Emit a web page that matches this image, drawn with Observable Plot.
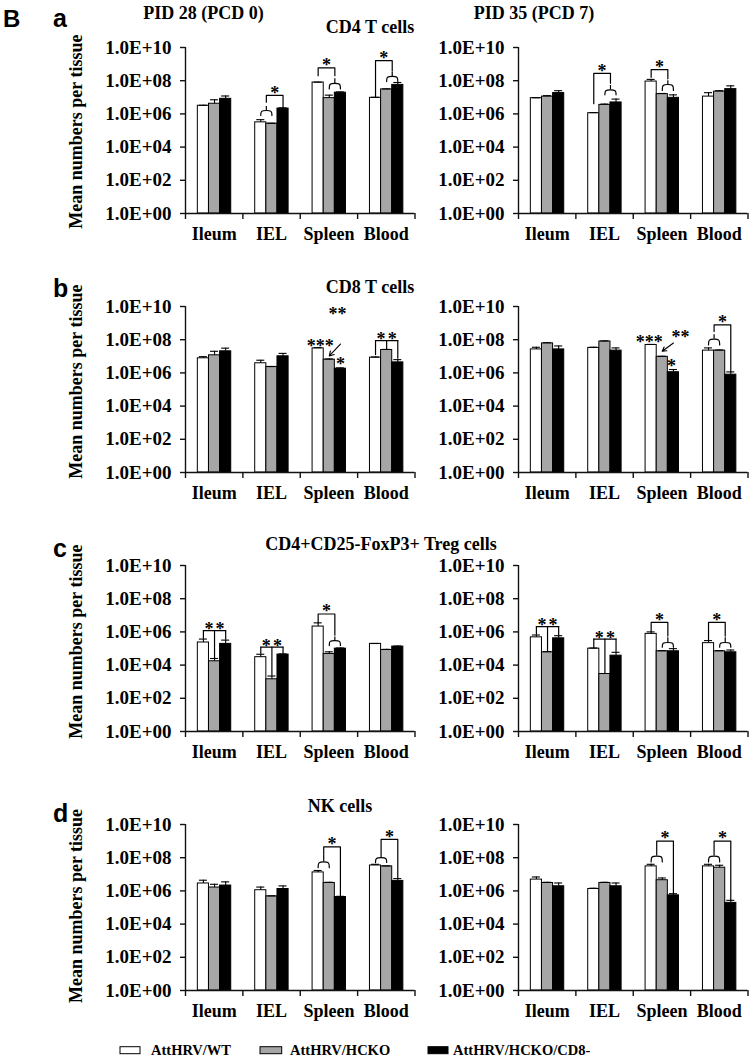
<!DOCTYPE html>
<html><head><meta charset="utf-8">
<script src="https://cdn.jsdelivr.net/npm/d3@7"></script>
<script src="https://cdn.jsdelivr.net/npm/@observablehq/plot@0.6"></script>
<style>
html,body{margin:0;padding:0;background:#fff;}
#fig{position:relative;width:750px;height:1061px;overflow:hidden;background:#fff;}
.panel{position:absolute;width:330px;height:260px;}
.panel svg{overflow:visible;}
</style></head><body><div id="fig"></div>
<script>
// ---------- categories & labels ----------
const tissues = ["Ileum", "IEL", "Spleen", "Blood"];
const groups = ["AttHRV/WT", "AttHRV/HCKO", "AttHRV/HCKO/CD8-"];
const groupColors = ["#ffffff", "#a6a6a6", "#000000"];
const yTickValues = [1e0, 1e2, 1e4, 1e6, 1e8, 1e10];
const yTickLabels = ["1.0E+00", "1.0E+02", "1.0E+04", "1.0E+06", "1.0E+08", "1.0E+10"];
const cellTypes = ["CD4 T cells", "CD8 T cells", "CD4+CD25-FoxP3+ Treg cells", "NK cells"];
const timepoints = ["PID 28 (PCD 0)", "PID 35 (PCD 7)"];
const panelLetters = ["a", "b", "c", "d"];
const yLabel = "Mean numbers per tissue";

// ---------- values: rows = groups (WT, HCKO, HCKO/CD8-), cols = tissues ----------
const cd4_d0_mean  = [[3.1e6, 3.1e5, 7.8e7, 9.3e6], [4.1e6, 2.6e5, 8.9e6, 3.0e7], [8.1e6, 2.1e6, 1.9e7, 5.6e7]];
const cd4_d0_upper = [[3.3e6, 4.5e5, 8.1e7, 1.0e7], [7.1e6, 2.7e5, 1.35e7, 3.2e7], [1.2e7, 2.3e6, 2.1e7, 7.8e7]];
const cd4_d7_mean  = [[8.9e6, 1.1e6, 8.9e7, 1.1e7], [1.1e7, 3.5e6, 1.55e7, 2.2e7], [1.8e7, 4.9e6, 9.3e6, 3.1e7]];
const cd4_d7_upper = [[9.3e6, 1.2e6, 1.2e8, 1.9e7], [1.26e7, 3.9e6, 1.7e7, 2.5e7], [2.5e7, 7.8e6, 1.4e7, 4.9e7]];
const cd8_d0_mean  = [[7.6e6, 3.8e6, 3.0e7, 8.3e6], [1.15e7, 2.3e6, 6.3e6, 2.4e7], [2.0e7, 1.0e7, 1.8e6, 4.3e6]];
const cd8_d0_upper = [[9.5e6, 5.8e6, 3.3e7, 9.1e6], [2.0e7, 2.4e6, 6.9e6, 2.6e7], [3.1e7, 1.5e7, 2.0e6, 6.3e6]];
const cd8_d7_mean  = [[2.6e7, 3.2e7, 4.8e7, 2.2e7], [6.0e7, 7.8e7, 9.3e6, 2.2e7], [2.6e7, 2.2e7, 1.1e6, 7.8e5]];
const cd8_d7_upper = [[3.5e7, 3.5e7, 5.2e7, 3.2e7], [6.6e7, 8.5e7, 1.0e7, 2.4e7], [4.2e7, 3.2e7, 1.6e6, 1.15e6]];
const treg_d0_mean  = [[2.3e5, 3.0e4, 2.1e6, 1.9e5], [1.7e4, 1.4e3, 4.7e4, 8.1e4], [1.9e5, 4.3e4, 9.8e4, 1.3e5]];
const treg_d0_upper = [[3.7e5, 4.5e4, 3.5e6, 2.0e5], [2.5e4, 2.2e3, 6.3e4, 8.9e4], [3.2e5, 4.7e4, 1.07e5, 1.4e5]];
const treg_d7_mean  = [[4.7e5, 9.8e4, 7.6e5, 2.1e5], [5.9e4, 2.9e3, 6.8e4, 6.8e4], [4.1e5, 3.7e4, 6.8e4, 5.9e4]];
const treg_d7_upper = [[6.5e5, 1.07e5, 1.0e6, 3.0e5], [6.5e4, 2.9e3, 7.4e4, 7.4e4], [5.9e5, 5.9e4, 9.8e4, 8.1e4]];
const nk_d0_mean  = [[2.8e6, 1.1e6, 1.3e7, 3.4e7], [1.6e6, 4.7e5, 3.0e6, 3.0e7], [2.1e6, 1.3e6, 4.3e5, 4.0e6]];
const nk_d0_upper = [[4.4e6, 1.7e6, 1.7e7, 4.0e7], [2.5e6, 5.0e5, 3.3e6, 3.2e7], [3.5e6, 2.0e6, 4.7e5, 5.5e6]];
const nk_d7_mean  = [[4.8e6, 1.3e6, 3.0e7, 3.0e7], [3.0e6, 3.0e6, 4.4e6, 2.5e7], [1.9e6, 1.9e6, 5.4e5, 1.9e5]];
const nk_d7_upper = [[6.9e6, 1.45e6, 4.0e7, 4.0e7], [3.3e6, 3.3e6, 6.0e6, 3.5e7], [3.0e6, 3.0e6, 6.8e5, 2.7e5]];

// ---------- significance annotations (anchored to tissue / group, y in data units) ----------
const cd4_d0_brackets = [
  {tissue: "IEL", from: "WT|HCKO", fromEnd: 5.1e6, to: "CD8", toEnd: 2.3e6, top: 1.3e7, label: "*"},
  {tissue: "Spleen", from: "WT", fromEnd: 2.0e8, to: "HCKO|CD8", toEnd: 2.0e8, top: 5.9e8, label: "*"},
  {tissue: "Blood", from: "WT", fromEnd: 1.1e7, to: "HCKO|CD8", toEnd: 3.8e8, top: 1.6e9, label: "*"}];
const cd4_d0_braces = [
  {tissue: "IEL", pair: "WT|HCKO", base: 8.1e5, shoulder: 1.6e6, stem: 2.8e6},
  {tissue: "Spleen", pair: "HCKO|CD8", base: 3.2e7, shoulder: 6.9e7, stem: 1.3e8},
  {tissue: "Blood", pair: "HCKO|CD8", base: 8.9e7, shoulder: 1.8e8, stem: 3.2e8}];
const cd4_d7_brackets = [
  {tissue: "IEL", from: "WT", fromEnd: 4.1e6, to: "HCKO|CD8", toEnd: 7.1e7, top: 2.8e8, label: "*"},
  {tissue: "Spleen", from: "WT", fromEnd: 1.6e8, to: "HCKO|CD8", toEnd: 1.3e8, top: 4.6e8, label: "*"}];
const cd4_d7_braces = [
  {tissue: "IEL", pair: "HCKO|CD8", base: 1.4e7, shoulder: 2.8e7, stem: 5.2e7},
  {tissue: "Spleen", pair: "HCKO|CD8", base: 2.6e7, shoulder: 5.9e7, stem: 1.0e8}];
const cd8_d0_prongs = [{tissue: "Blood", top: 8.7e7, ends: [1.1e7, 2.5e7, 6.6e6]}];
const cd8_d0_notes = [
  {tissue: "Spleen", at: "WT", y: 4.1e7, text: "***", dx: 2},
  {tissue: "Spleen", at: "CD8", y: 3.3e9, text: "**", dx: -3},
  {tissue: "Spleen", at: "CD8", y: 3.2e6, text: "*", dx: 0}];
const cd8_d0_arrows = [{tissue: "Spleen", from: "CD8", y1: 5.5e7, to: "HCKO", y2: 1.05e7}];
const cd8_d7_notes = [
  {tissue: "Spleen", at: "WT", y: 6.8e7, text: "***", dx: -2},
  {tissue: "Spleen", at: "CD8", y: 1.35e8, text: "**", dx: 7},
  {tissue: "Spleen", at: "CD8", y: 2.7e6, text: "*", dx: -2}];
const cd8_d7_arrows = [{tissue: "Spleen", from: "CD8", y1: 6.3e7, to: "HCKO", y2: 2.0e7}];
const cd8_d7_brackets = [
  {tissue: "Blood", from: "WT|HCKO", fromEnd: 3.1e8, to: "CD8", toEnd: 1.15e6, top: 7.9e8, label: "*"}];
const cd8_d7_braces = [{tissue: "Blood", pair: "WT|HCKO", base: 4.8e7, shoulder: 1.07e8, stem: 2.0e8}];
const treg_d0_prongs = [
  {tissue: "Ileum", top: 1.2e6, ends: [3.7e5, 2.5e4, 3.2e5]},
  {tissue: "IEL", top: 1.2e5, ends: [4.5e4, 2.2e3, 4.7e4]}];
const treg_d0_brackets = [
  {tissue: "Spleen", from: "WT", fromEnd: 3.5e6, to: "HCKO|CD8", toEnd: 6.3e5, top: 1.2e7, label: "*"}];
const treg_d0_braces = [{tissue: "Spleen", pair: "HCKO|CD8", base: 1.5e5, shoulder: 3.0e5, stem: 5.0e5}];
const treg_d7_prongs = [
  {tissue: "Ileum", top: 2.1e6, ends: [6.5e5, 5.9e4, 5.9e5]},
  {tissue: "IEL", top: 3.7e5, ends: [9.8e4, 2.9e3, 5.9e4]}];
const treg_d7_brackets = [
  {tissue: "Spleen", from: "WT", fromEnd: 1.05e6, to: "HCKO|CD8", toEnd: 5.6e5, top: 3.8e6, label: "*"},
  {tissue: "Blood", from: "WT", fromEnd: 3.0e5, to: "HCKO|CD8", toEnd: 5.6e5, top: 3.8e6, label: "*"}];
const treg_d7_braces = [
  {tissue: "Spleen", pair: "HCKO|CD8", base: 1.2e5, shoulder: 2.3e5, stem: 4.5e5},
  {tissue: "Blood", pair: "HCKO|CD8", base: 1.2e5, shoulder: 2.3e5, stem: 4.5e5}];
const nk_d0_brackets = [
  {tissue: "Spleen", from: "WT|HCKO", fromEnd: 1.6e8, to: "CD8", toEnd: 4.7e5, top: 4.5e8, label: "*"},
  {tissue: "Blood", from: "WT|HCKO", fromEnd: 2.8e8, to: "CD8", toEnd: 5.5e6, top: 1.26e9, label: "*"}];
const nk_d0_braces = [
  {tissue: "Spleen", pair: "WT|HCKO", base: 2.5e7, shoulder: 5.6e7, stem: 1.4e8},
  {tissue: "Blood", pair: "WT|HCKO", base: 5.2e7, shoulder: 1.0e8, stem: 2.5e8}];
const nk_d7_brackets = [
  {tissue: "Spleen", from: "WT|HCKO", fromEnd: 2.8e8, to: "CD8", toEnd: 6.8e5, top: 1.0e9, label: "*"},
  {tissue: "Blood", from: "WT|HCKO", fromEnd: 2.8e8, to: "CD8", toEnd: 2.7e5, top: 1.0e9, label: "*"}];
const nk_d7_braces = [
  {tissue: "Spleen", pair: "WT|HCKO", base: 5.5e7, shoulder: 1.26e8, stem: 2.5e8},
  {tissue: "Blood", pair: "WT|HCKO", base: 5.5e7, shoulder: 1.26e8, stem: 2.5e8}];

// ---------- layout ----------
const SERIF = "'Liberation Serif', 'Times New Roman', serif";
const SANS = "'Liberation Sans', Arial, sans-serif";
const BAR0 = 0.215, BARW = 0.194, CAP = 0.07;
const slot = {"WT": 0, "HCKO": 1, "CD8": 2, "WT|HCKO": 0.5, "HCKO|CD8": 1.5};
const ax = (ti, a) => ti + BAR0 + BARW * (slot[a] + 0.5);
const tIdx = t => tissues.indexOf(t);

function makePanel(mean, upper, ann) {
  const rows = [];
  tissues.forEach((t, ti) => groups.forEach((g, gi) =>
    rows.push({tissue: t, ti, gi, group: g, mean: mean[gi][ti], upper: upper[gi][ti]})));
  const errs = rows.filter(d => d.upper > d.mean * 1.01);
  const cx = d => d.ti + BAR0 + BARW * (d.gi + 0.5);

  const bracketPts = [], labels = [], bracePts = [], stems = [], prongPts = [], legs = [];
  (ann.brackets || []).forEach((b, k) => {
    const ti = tIdx(b.tissue), x1 = ax(ti, b.from), x2 = ax(ti, b.to);
    bracketPts.push({id: k, x: x1, y: b.fromEnd}, {id: k, x: x1, y: b.top},
                    {id: k, x: x2, y: b.top}, {id: k, x: x2, y: b.toEnd});
    labels.push({x: (x1 + x2) / 2, y: b.top, text: b.label, dy: -2.5, dx: 0});
  });
  (ann.braces || []).forEach((b, k) => {
    const ti = tIdx(b.tissue);
    const [a1, a2] = b.pair.split("|");
    const L = ax(ti, a1), R = ax(ti, a2), M = ax(ti, b.pair);
    bracePts.push({id: k, x: L, y: b.base}, {id: k, x: L, y: b.shoulder}, {id: k, x: M, y: b.shoulder},
                  {id: k, x: R, y: b.shoulder}, {id: k, x: R, y: b.base});
    stems.push({x: M, y1: b.shoulder, y2: b.stem});
  });
  (ann.prongs || []).forEach((p, k) => {
    const ti = tIdx(p.tissue);
    prongPts.push({id: k, x: ax(ti, "WT"), y: p.top}, {id: k, x: ax(ti, "CD8"), y: p.top});
    ["WT", "HCKO", "CD8"].forEach((g, gi) => legs.push({x: ax(ti, g), y1: p.ends[gi], y2: p.top}));
    labels.push({x: ax(ti, "WT|HCKO"), y: p.top, text: "*", dy: -1, dx: 0});
    labels.push({x: ax(ti, "HCKO|CD8"), y: p.top, text: "*", dy: -1, dx: 0});
  });
  (ann.notes || []).forEach(n => labels.push({x: ax(tIdx(n.tissue), n.at), y: n.y, text: n.text, dy: 0, dx: n.dx}));
  const arrows = (ann.arrows || []).map(a => ({x1: ax(tIdx(a.tissue), a.from), y1: a.y1, x2: ax(tIdx(a.tissue), a.to), y2: a.y2}));

  return Plot.plot({
    width: 330, height: 260,
    marginLeft: 95, marginRight: 5.5, marginTop: 40, marginBottom: 54,
    style: {fontFamily: SERIF, fontSize: "18px", fontWeight: "bold", color: "#000", background: "transparent", overflow: "visible"},
    x: {type: "linear", domain: [0, 4], axis: null},
    y: {type: "log", domain: [1, 1e10], axis: null},
    color: {type: "ordinal", domain: groups, range: groupColors},
    marks: [
      Plot.rect(rows, {x1: d => d.ti + BAR0 + d.gi * BARW, x2: d => d.ti + BAR0 + (d.gi + 1) * BARW,
        y1: 1, y2: "mean", fill: "group", stroke: "#000", strokeWidth: 1}),
      Plot.ruleX(errs, {x: cx, y1: "mean", y2: "upper", stroke: "#000", strokeWidth: 1.1}),
      Plot.ruleY(errs, {y: "upper", x1: d => cx(d) - CAP, x2: d => cx(d) + CAP, stroke: "#000", strokeWidth: 1.1}),
      Plot.ruleY([1], {x1: 0, x2: 4, stroke: "#111", strokeWidth: 1.4}),
      Plot.ruleX([0], {y1: 1, y2: 1e10, stroke: "#111", strokeWidth: 1.4}),
      Plot.axisY({ticks: yTickValues, tickFormat: d => yTickLabels[yTickValues.indexOf(d)], tickSize: 5, tickPadding: 9, label: null, stroke: "#111", strokeWidth: 1.4, fontSize: 19}),
      Plot.axisX({ticks: [0, 1, 2, 3, 4], tickFormat: () => "", tickSize: 6, label: null, stroke: "#111", strokeWidth: 1.4}),
      Plot.axisX({ticks: [0.5, 1.5, 2.5, 3.5], tickFormat: d => tissues[Math.floor(d)], tickSize: 0, tickPadding: 14, label: null}),
      Plot.line(bracketPts, {x: "x", y: "y", z: "id", stroke: "#000", strokeWidth: 1.2}),
      Plot.line(prongPts, {x: "x", y: "y", z: "id", stroke: "#000", strokeWidth: 1.2}),
      Plot.ruleX(legs, {x: "x", y1: "y1", y2: "y2", stroke: "#000", strokeWidth: 1.2}),
      Plot.line(bracePts, {x: "x", y: "y", z: "id", curve: "basis", stroke: "#000", strokeWidth: 1.2}),
      Plot.ruleX(stems, {x: "x", y1: "y1", y2: "y2", stroke: "#000", strokeWidth: 1.2}),
      Plot.arrow(arrows, {x1: "x1", y1: "y1", x2: "x2", y2: "y2", stroke: "#000", strokeWidth: 1.1, headLength: 7}),
      ...labels.map(l => Plot.text([l], {x: "x", y: "y", text: "text", dy: l.dy, dx: l.dx, fill: "#000", fontSize: 18, fontWeight: "bold"}))
    ]
  });
}

const panels = [
  {row: 0, col: 0, mean: cd4_d0_mean, upper: cd4_d0_upper, ann: {brackets: cd4_d0_brackets, braces: cd4_d0_braces}},
  {row: 0, col: 1, mean: cd4_d7_mean, upper: cd4_d7_upper, ann: {brackets: cd4_d7_brackets, braces: cd4_d7_braces}},
  {row: 1, col: 0, mean: cd8_d0_mean, upper: cd8_d0_upper, ann: {prongs: cd8_d0_prongs, notes: cd8_d0_notes, arrows: cd8_d0_arrows}},
  {row: 1, col: 1, mean: cd8_d7_mean, upper: cd8_d7_upper, ann: {notes: cd8_d7_notes, arrows: cd8_d7_arrows, brackets: cd8_d7_brackets, braces: cd8_d7_braces}},
  {row: 2, col: 0, mean: treg_d0_mean, upper: treg_d0_upper, ann: {prongs: treg_d0_prongs, brackets: treg_d0_brackets, braces: treg_d0_braces}},
  {row: 2, col: 1, mean: treg_d7_mean, upper: treg_d7_upper, ann: {prongs: treg_d7_prongs, brackets: treg_d7_brackets, braces: treg_d7_braces}},
  {row: 3, col: 0, mean: nk_d0_mean, upper: nk_d0_upper, ann: {brackets: nk_d0_brackets, braces: nk_d0_braces}},
  {row: 3, col: 1, mean: nk_d7_mean, upper: nk_d7_upper, ann: {brackets: nk_d7_brackets, braces: nk_d7_braces}}
];
const rowTops = [7, 266, 525, 784];
const colLefts = [90, 422.7];

const fig = document.getElementById("fig");
panels.forEach(p => {
  const div = document.createElement("div");
  div.className = "panel";
  div.style.left = colLefts[p.col] + "px";
  div.style.top = rowTops[p.row] + "px";
  div.appendChild(makePanel(p.mean, p.upper, p.ann));
  fig.appendChild(div);
});

// ---------- titles, letters, axis labels, legend ----------
const ov = d3.select(fig).append("svg")
  .attr("width", 750).attr("height", 1061)
  .style("position", "absolute").style("left", "0px").style("top", "0px").style("overflow", "visible");

ov.append("text").attr("x", 3).attr("y", 27).attr("font-family", SANS).attr("font-weight", "bold").attr("font-size", 24).text("B");
const letterY = [27, 297, 557, 822];
panelLetters.forEach((l, i) => ov.append("text").attr("x", 53).attr("y", letterY[i])
  .attr("font-family", SANS).attr("font-weight", "bold").attr("font-size", 25).text(l));

const tpX = [203.5, 534];
timepoints.forEach((t, i) => ov.append("text").attr("x", tpX[i]).attr("y", 19).attr("text-anchor", "middle")
  .attr("font-family", SERIF).attr("font-weight", "bold").attr("font-size", 18).text(t));

const ctX = [370, 370, 381, 340], ctY = [33, 293, 550, 812];
cellTypes.forEach((t, i) => ov.append("text").attr("x", ctX[i]).attr("y", ctY[i]).attr("text-anchor", "middle")
  .attr("font-family", SERIF).attr("font-weight", "bold").attr("font-size", 18).text(t));

const ylY = [131.7, 381.7, 641.7, 906];
ylY.forEach(cy => ov.append("text").attr("transform", `translate(82,${cy}) rotate(-90)`)
  .attr("text-anchor", "middle").attr("font-family", SERIF).attr("font-weight", "bold").attr("font-size", 18).text(yLabel));

const legBoxX = [120, 260, 428], legBoxW = [20, 21.7, 20], legTextX = [151, 290, 453];
groups.forEach((g, i) => {
  ov.append("rect").attr("x", legBoxX[i]).attr("y", 1046.7).attr("width", legBoxW[i]).attr("height", 7)
    .attr("fill", groupColors[i]).attr("stroke", "#000").attr("stroke-width", 1);
  ov.append("text").attr("x", legTextX[i]).attr("y", 1054.5).attr("font-family", SERIF).attr("font-weight", "bold")
    .attr("font-size", 14.5).text(g);
});
</script></body></html>
